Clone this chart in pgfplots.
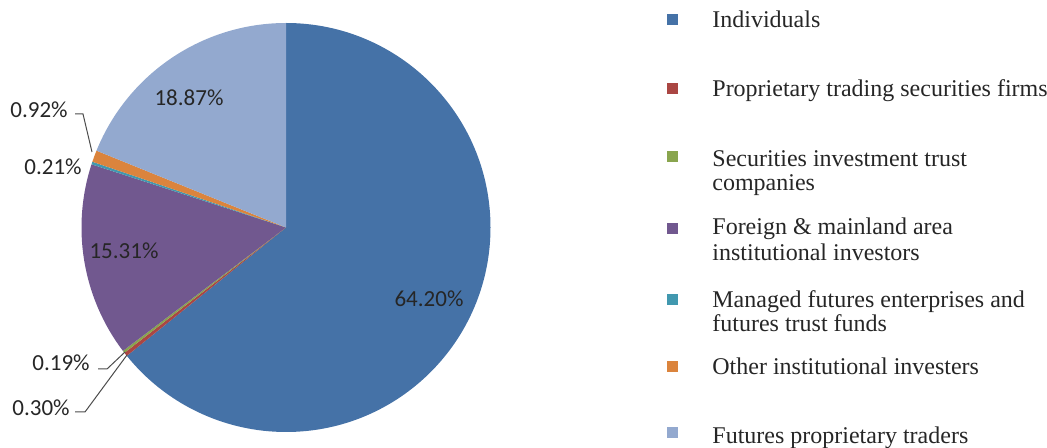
\documentclass[border=0pt]{standalone}
\usepackage{fontspec}
\setmainfont{Liberation Serif}
\newfontfamily\calibri{Carlito}
\usepackage{pgfplots}
\usepackage{pgfplotstable}
\pgfplotsset{compat=1.18}

% Excel 2007 palette
\definecolor{c0}{HTML}{4572A7}
\definecolor{c1}{HTML}{AA4643}
\definecolor{c2}{HTML}{89A54E}
\definecolor{c3}{HTML}{71588F}
\definecolor{c4}{HTML}{4198AF}
\definecolor{c5}{HTML}{DB843D}
\definecolor{c6}{HTML}{93A9CF}

% shares in percent, clockwise from 12 o'clock
\pgfplotstableread{
value
64.20
0.30
0.19
15.31
0.21
0.92
18.87
}\shares

\begin{document}
\begin{tikzpicture}
\begin{axis}[
    scale only axis,
    width=523.5bp, height=224bp,
    xmin=0, xmax=1047, ymin=0, ymax=448,
    hide axis, clip=false,
]
\coordinate (bl) at (axis cs:0,0);
\coordinate (tr) at (axis cs:1047,448);

% pie slices
\pgfplotsextra{
  \pgfplotstablegetrowsof{\shares}
  \pgfmathtruncatemacro\last{\pgfplotsretval-1}
  \xdef\cum{0}
  \foreach \i in {0,...,\last} {
    \pgfplotstablegetelem{\i}{value}\of{\shares}
    \let\v\pgfplotsretval
    \pgfmathsetmacro\a{90-3.6*\cum}
    \pgfmathsetmacro\b{90-3.6*(\cum+\v)}
    \fill[c\i] (axis cs:286,220.5) -- ++(\a:102.25bp)
      arc[start angle=\a, end angle=\b, radius=102.25bp] -- cycle;
    \pgfmathsetmacro\newcum{\cum+\v}
    \xdef\cum{\newcum}
  }
}

% data labels
\begin{scope}[every node/.style={font=\calibri\fontsize{11.5bp}{13bp}\selectfont,
    text=black!85, inner sep=0pt}]
\node at (axis cs:429,149.5) {64.20\%};
\node at (axis cs:189,350.5) {18.87\%};
\node at (axis cs:124,197.5) {15.31\%};
\node[anchor=east] at (axis cs:68,338) {0.92\%};
\node[anchor=east] at (axis cs:82,281) {0.21\%};
\node[anchor=east] at (axis cs:90,85) {0.19\%};
\node[anchor=east] at (axis cs:70,40) {0.30\%};
\end{scope}
\begin{scope}[draw=black!70, line width=0.5bp]
\draw (axis cs:75,334) -- (axis cs:83,334) -- (axis cs:92,296);
\draw (axis cs:98,79) -- (axis cs:107,79) -- (axis cs:125,96);
\draw (axis cs:75,36) -- (axis cs:85,36) -- (axis cs:127,93);
\end{scope}

% legend
\begin{scope}[every node/.style={font=\fontsize{12bp}{12.5bp}\selectfont,
    text=black!85, inner sep=0pt, anchor=base west}]
\fill[c0] (axis cs:667,423) rectangle (axis cs:678,434);
\node at (axis cs:712,420) {Individuals};
\fill[c1] (axis cs:667,354) rectangle (axis cs:678,365);
\node at (axis cs:712,351) {Proprietary trading securities firms};
\fill[c2] (axis cs:667,286) rectangle (axis cs:678,297);
\node at (axis cs:712,281) {Securities investment trust};
\node at (axis cs:712,257) {companies};
\fill[c3] (axis cs:667,214) rectangle (axis cs:678,225);
\node at (axis cs:712,213) {Foreign \& mainland area};
\node at (axis cs:712,187) {institutional investors};
\fill[c4] (axis cs:667,143) rectangle (axis cs:678,154);
\node at (axis cs:712,140) {Managed futures enterprises and};
\node at (axis cs:712,116) {futures trust funds};
\fill[c5] (axis cs:667,76) rectangle (axis cs:678,87);
\node at (axis cs:712,73) {Other institutional investers};
\fill[c6] (axis cs:667,10) rectangle (axis cs:678,21);
\node at (axis cs:712,5) {Futures proprietary traders};
\end{scope}
\end{axis}
\pgfresetboundingbox
\useasboundingbox (bl) rectangle (tr);
\end{tikzpicture}
\end{document}
